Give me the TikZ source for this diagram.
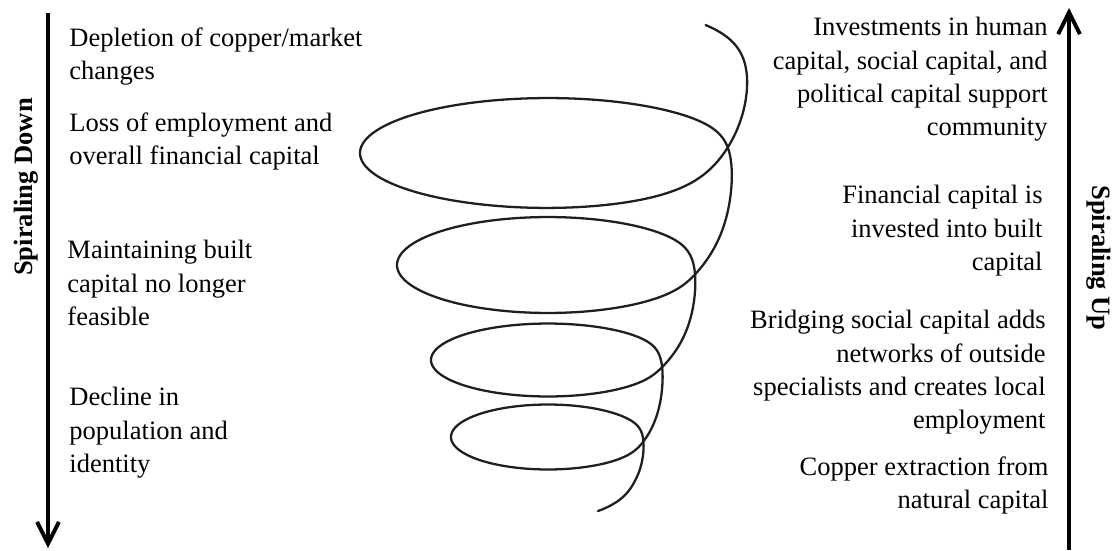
\documentclass[tikz,border=0pt]{standalone}
\usepackage{fontspec}
\setmainfont{Liberation Serif}
\usetikzlibrary{arrows.meta}
\tikzset{note/.style={
  font=\fontsize{12.2pt}{15.3pt}\selectfont,
  inner sep=0pt}}
\tikzset{trend/.style={line width=1.8pt,
  -{Straight Barb[length=10pt,width=10pt]}}}
\tikzset{trendlabel/.style={font=\fontsize{12.2pt}{14pt}\selectfont\bfseries,inner sep=0pt}}
\tikzset{coil/.style={line width=1.05pt,draw=black!88,line cap=round}}
\tikzset{declare function={drift(\a,\p,\w)=0.5+0.5*tanh(max(-4,min(4,(\a-\p)/\w)));}}

\begin{document}
\begin{tikzpicture}[x=0.46pt,y=-0.46pt]
  \useasboundingbox (0,0) rectangle (1119,550);
  \foreach \ya/\yb/\ra/\rb/\ha/\hb/\py/\wy/\pa/\wa/\ts/\tf in {
      58/153/200/188/56/55/9.5/23/17.7/14.5/-38/180,
      153/265/188/151/55/48/0/14/8/12/-180/180,
      265/360/151/117/48/36.5/0/14/8/12/-180/180,
      360/437/117/97/36.5/32.5/0/14/8/12/-180/180,
      437/475/97/87/32.5/44/0/14/8/12/-180/55}
    \draw[coil] plot[domain=\ts:\tf,samples=160,smooth,variable=\ang]
      ({548+(\ra+(\rb-\ra)*drift(\ang,\pa,\wa))*cos(\ang)},
       {\ya+(\yb-\ya)*drift(\ang,\py,\wy)+(\ha+(\hb-\ha)*drift(\ang,\py,\wy))*sin(\ang)});
  \foreach \nm/\ps/\tx in {
      depletion/{(69,27)}/{Depletion of copper/market\\changes},
      loss/{(69,112)}/{Loss of employment and\\overall financial capital},
      maintain/{(67,240)}/{Maintaining built\\capital no longer\\feasible},
      decline/{(69,387)}/{Decline in\\population and\\identity}}
    \node[note,align=left,anchor=north west] (\nm) at \ps {\tx};
  \foreach \nm/\ps/\tx in {
      invest/{(1048,17)}/{Investments in human\\capital, social capital, and\\political capital support\\community},
      finance/{(1043,185)}/{Financial capital is\\invested into built\\capital},
      bridging/{(1046,310)}/{Bridging social capital adds\\networks of outside\\specialists and creates local\\employment},
      copper/{(1049,456)}/{Copper extraction from\\natural capital}}
    \node[note,align=right,anchor=north east] (\nm) at \ps {\tx};
  \coordinate (downstart) at (48,13);
  \coordinate (downend) at (48,548);
  \coordinate (upstart) at (1069,550);
  \coordinate (upend) at (1069,8);
  \draw[trend] (downstart) -- (downend);
  \draw[trend] (upstart) -- (upend);
  \node[trendlabel,rotate=90] (down) at (26,187) {Spiraling Down};
  \node[trendlabel,rotate=-90] (up) at (1099,258) {Spiraling Up};
\end{tikzpicture}
\end{document}
